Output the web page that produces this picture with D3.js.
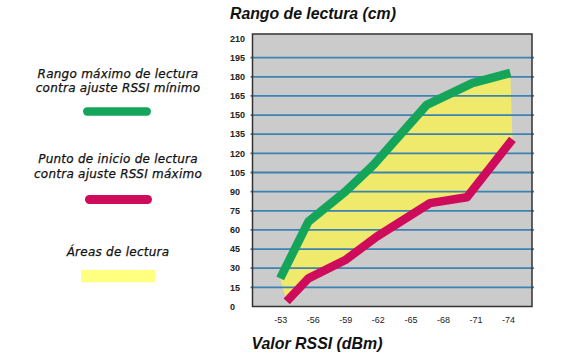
<!DOCTYPE html>
<html><head><meta charset="utf-8">
<script src="https://cdn.jsdelivr.net/npm/d3@7"></script>
<style>body{margin:0;background:#fff}svg{display:block}</style>
</head><body>
<script>
// Data
const xTicks = [-53, -56, -59, -62, -65, -68, -71, -74];
const yTicks = [0, 15, 30, 45, 60, 75, 90, 105, 120, 135, 150, 165, 180, 195, 210];
const greenRssi = [-53, -55.6, -59, -61.6, -66.5, -70.7, -74.2];
const greenRange = [22, 66.5, 90, 111, 158, 175, 183];
const redRssi = [-53.6, -55.6, -59, -61.9, -66.8, -70.2, -74.4];
const redRange = [4, 22, 36.4, 54.7, 81, 85.6, 131];
const legendLabels = [
  ["Rango máximo de lectura", "contra ajuste RSSI mínimo"],
  ["Punto de inicio de lectura", "contra ajuste RSSI máximo"],
  ["Áreas de lectura"]
];
const colors = {green: "#14a55b", red: "#cf0b5b", fill: "#efe96c", legendFill: "#ffff80", bg: "#cbcbcb", grid: "#3c82b2"};

const W = 567, H = 364;
const box = {l: 252.5, r: 532, t: 34, b: 306.5};
const svg = d3.select("body").append("svg").attr("width", W).attr("height", H);

const x = d3.scaleLinear().domain([-50.45, -76.2]).range([box.l, box.r]);
const y = d3.scaleLinear().domain([0, 210]).range([306.5, 38.5]);

// background
svg.append("rect").attr("x", box.l).attr("y", box.t).attr("width", box.r - box.l).attr("height", box.b - box.t)
  .attr("fill", colors.bg);

// area
const green = greenRssi.map((v, i) => [v, greenRange[i]]);
const red = redRssi.map((v, i) => [v, redRange[i]]);
const poly = green.concat(red.slice().reverse());
svg.append("path").attr("d", d3.line().x(d => x(d[0])).y(d => y(d[1]))(poly) + "Z")
  .attr("fill", colors.fill);

// grid
svg.append("g").selectAll("line").data(yTicks.filter(d => d > 0 && d < 210)).join("line")
  .attr("x1", box.l - 2).attr("x2", box.r + 2).attr("y1", d => y(d)).attr("y2", d => y(d))
  .attr("stroke", colors.grid).attr("stroke-width", 1.8);

// lines
const line = d3.line().x(d => x(d[0])).y(d => y(d[1]));
svg.append("path").attr("d", line(green)).attr("fill", "none").attr("stroke", colors.green)
  .attr("stroke-width", 8.5).attr("stroke-linejoin", "round");
svg.append("path").attr("d", line(red)).attr("fill", "none").attr("stroke", colors.red)
  .attr("stroke-width", 8.5).attr("stroke-linejoin", "round");

// box border
svg.append("rect").attr("x", box.l).attr("y", box.t).attr("width", box.r - box.l).attr("height", box.b - box.t)
  .attr("fill", "none").attr("stroke", "#333").attr("stroke-width", 1.5);

// y axis labels
const gy = svg.append("g").attr("transform", "translate(230,0)");
gy.selectAll("text").data(yTicks).join("text")
  .attr("x", 0).attr("y", d => y(d)).attr("dy", "0.35em")
  .attr("font-family", "Liberation Sans, Arial, sans-serif").attr("font-size", 9).attr("fill", "#222")
  .attr("font-weight", "bold")
  .text(d => d);

// x axis labels
const xAxis = d3.axisBottom(x).tickValues(xTicks).tickSize(0).tickFormat(d3.format("d"));
const gx = svg.append("g").attr("transform", `translate(0,${box.b})`).call(xAxis);
gx.select(".domain").remove();
gx.selectAll("text").attr("y", 16).attr("dy", "0").attr("font-family", "Liberation Sans Narrow, Liberation Sans, Arial, sans-serif")
  .attr("font-size", 9).attr("fill", "#222").text(d => d3.format("d")(d).replace("−", "-"));

// titles
svg.append("text").attr("x", 230).attr("y", 19).text("Rango de lectura (cm)")
  .attr("font-family", "Liberation Sans, Arial, sans-serif").attr("font-size", 15.8)
  .attr("font-weight", "bold").attr("font-style", "italic").attr("fill", "#111");
svg.append("text").attr("x", 251.5).attr("y", 349).text("Valor RSSI (dBm)")
  .attr("font-family", "Liberation Sans, Arial, sans-serif").attr("font-size", 15.9)
  .attr("font-weight", "bold").attr("font-style", "italic").attr("fill", "#111");

// legend
const lx = 118;
const legTextY = [[77.6, 92], [163, 177.7], [255.7]];
legendLabels.forEach((lines, i) => {
  lines.forEach((t, j) => {
    svg.append("text").attr("x", lx).attr("y", legTextY[i][j]).attr("text-anchor", "middle")
      .attr("font-family", "DejaVu Sans, sans-serif").attr("font-size", 12)
      .attr("letter-spacing", 0.25)
      .attr("font-style", "italic").attr("fill", "#111")
      .attr("stroke", "#111").attr("stroke-width", 0.25).text(t);
  });
});
svg.append("rect").attr("x", 83).attr("y", 107.3).attr("width", 68).attr("height", 8.5).attr("rx", 4.2)
  .attr("fill", colors.green);
svg.append("rect").attr("x", 85).attr("y", 195).attr("width", 67).attr("height", 9).attr("rx", 4.5)
  .attr("fill", colors.red);
svg.append("rect").attr("x", 81).attr("y", 270).attr("width", 74).attr("height", 12.3)
  .attr("fill", colors.legendFill);
</script>
</body></html>
